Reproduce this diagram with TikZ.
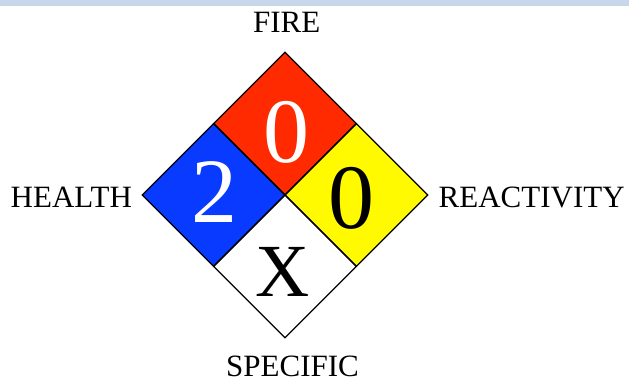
\documentclass[tikz,border=0pt]{standalone}
\usepackage{fontspec}
\setmainfont{Liberation Serif}
\usetikzlibrary{shapes.geometric}
\definecolor{nfpared}{RGB}{255,42,0}
\definecolor{nfpablue}{RGB}{8,58,255}
\definecolor{nfpayellow}{RGB}{255,250,0}
\definecolor{stripblue}{RGB}{200,215,234}
\tikzset{
  cell/.style={diamond, draw=black, line width=1.3pt, minimum width=143pt, minimum height=143pt, inner sep=0pt, aspect=1},
  bignum/.style={anchor=base, inner sep=0pt, font=\fontsize{92}{92}\selectfont},
  lbl/.style={anchor=base, inner sep=0pt, text depth=0pt, font=\fontsize{31}{31}\selectfont}
}
\begin{document}
\begin{tikzpicture}[x=1pt,y=-1pt]
\useasboundingbox (0,0) rectangle (629,379);
\fill[stripblue] (0,0) rectangle (629,6);
\node[cell, fill=nfpared]    (fire)   at (285,123.5) {};
\node[cell, fill=nfpablue]   (health) at (213.5,195) {};
\node[cell, fill=nfpayellow] (react)  at (356.5,195) {};
\node[cell, fill=white]      (spec)   at (285,266.5) {};
\node[bignum, text=white] (nfire)   at (286.5,162.5) {0};
\node[bignum, text=white] (nhealth) at (214,223) {2};
\node[bignum, text=black] (nreact)  at (351.7,229) {0};
\node[anchor=base, inner sep=0pt, font=\fontsize{75}{75}\selectfont] (nspec) at (282.5,296.5) {X};
\node[lbl] (lfire)   at (286.7,33) {FIRE};
\node[lbl] (lhealth) at (71.3,208) {HEALTH};
\node[lbl] (lreact)  at (531.7,208) {REACTIVITY};
\node[lbl] (lspec)   at (292.5,376) {SPECIFIC};
\end{tikzpicture}
\end{document}
